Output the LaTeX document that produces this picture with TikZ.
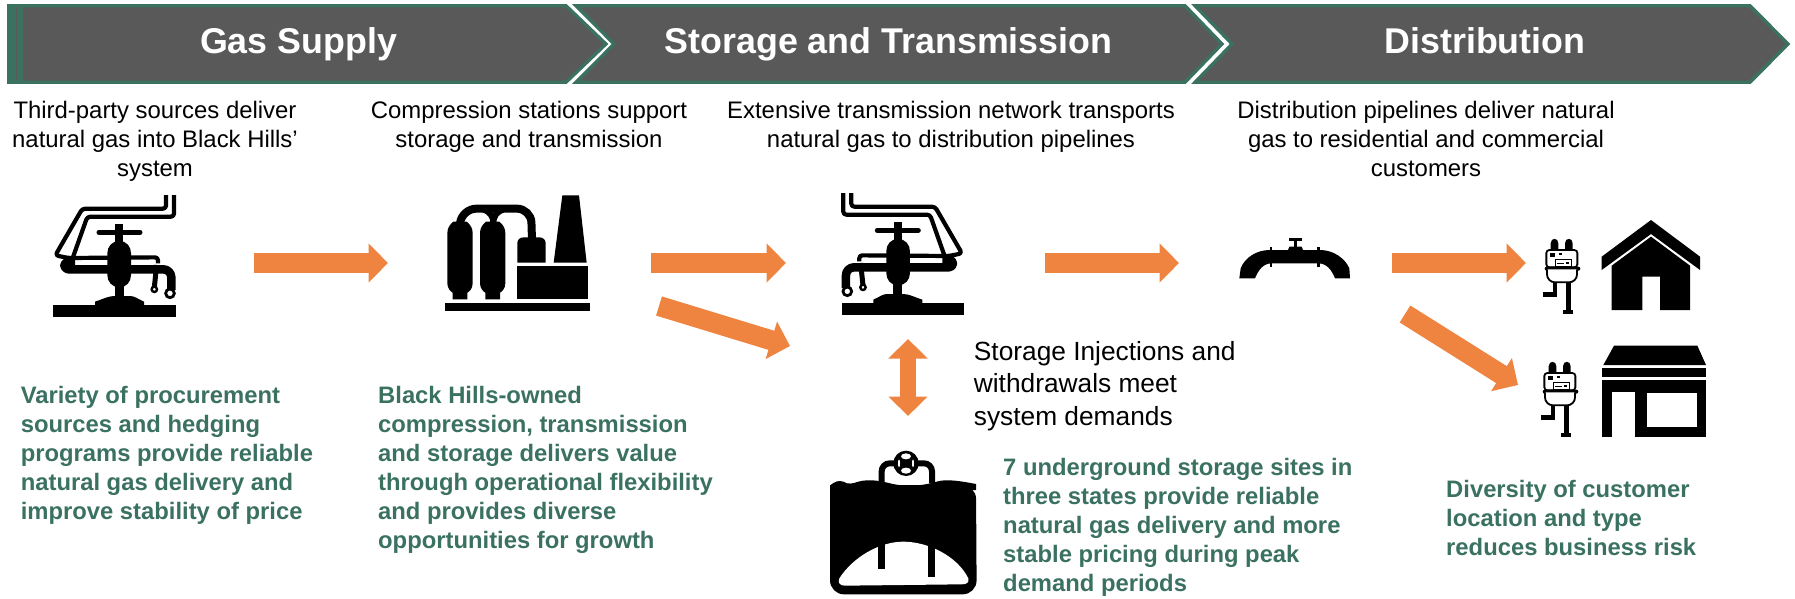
\documentclass[tikz,border=0pt]{standalone}
\usepackage{fontspec}
\setmainfont{Liberation Sans}
\usetikzlibrary{arrows.meta}
\definecolor{bannergray}{HTML}{595959}
\definecolor{bhgreen}{HTML}{3A7161}
\definecolor{flow}{HTML}{EF8340}
\tikzset{
  banner/.style={fill=bannergray,draw=bhgreen,line width=3.3pt,miter limit=10},
  bannertext/.style={inner sep=0pt,anchor=base,text=white,font=\fontsize{35.8}{40}\selectfont\bfseries},
  topnote/.style={inner sep=0pt,anchor=north,align=center,text=black,font=\fontsize{23.9}{28.8}\selectfont},
  sidenote/.style={inner sep=0pt,anchor=north west,align=left,text=black,font=\fontsize{26.3}{32.2}\selectfont},
  greennote/.style={inner sep=0pt,anchor=north west,align=left,text=bhgreen,font=\fontsize{23.8}{29}\selectfont\bfseries},
  flowarrow/.style={draw=flow,line width=20pt,-{Triangle[length=19.5pt,width=38pt]}},
  flowdouble/.style={draw=flow,line width=16pt,{Triangle[length=19.5pt,width=38pt]}-{Triangle[length=19.5pt,width=38pt]}},
  tube/.style={draw=black,line width=4.2pt,line join=round,line cap=butt,rounded corners=3pt},
}
\newcommand{\valveicon}{%
  \fill (70,375) rectangle (437,410);
  \fill (195,376) -- (195,365) .. controls (225,355) and (235,348) .. (255,348) -- (300,348) .. controls (315,348) and (325,358) .. (342,365) -- (342,376) -- cycle;
  \fill (256,300) rectangle (282,352);
  \fill (256,132) rectangle (280,190);
  \draw[line width=5pt,line cap=round] (207,157) -- (330,157);
  \fill (268,183) .. controls (290,183) and (303,200) .. (303,220) -- (303,285) .. controls (303,305) and (290,322) .. (268,322) .. controls (246,322) and (232,305) .. (232,285) -- (232,220) .. controls (232,200) and (246,183) .. (268,183) -- cycle;
  \draw[tube] (408,45) -- (408,86) -- (157,86) -- (76,226) -- (115,234) -- (384,232) -- (384,250);
  \draw[tube] (432,45) -- (432,110) -- (172,110) -- (126,240);
  \draw[line width=8.5pt,line join=round,rounded corners=4pt] (240,268) -- (103,268) -- (103,245) -- (135,245);
  \draw[line width=8.5pt,line join=round,rounded corners=8pt] (240,268) -- (424,268) -- (424,330);
  \draw[line width=5pt] (380,255) -- (373,322);
  \draw[line width=2.4pt,fill=white] (373,328) circle (8);
  \draw[line width=2.8pt,fill=white] (420,340) circle (13);
}
\newcommand{\compressoricon}{%
  \fill (45,368) rectangle (480,394);
  \foreach \dx in {0,98}{
    \fill[xshift=\dx] (70,125) -- (110,125) .. controls (122,135) and (128,145) .. (128,160) -- (128,310) .. controls (128,325) and (118,335) .. (112,338) -- (112,358) -- (68,358) -- (68,338) .. controls (62,335) and (52,325) .. (52,310) -- (52,160) .. controls (52,145) and (58,135) .. (70,125) -- cycle;
  }
  \draw[line width=8pt,rounded corners=14pt] (90,130) -- (97,86) -- (303,86) -- (306,180);
  \draw[line width=6pt] (190,130) .. controls (190,108) and (180,96) .. (160,88);
  \draw[line width=6pt] (190,130) .. controls (190,108) and (200,96) .. (220,88);
  \fill (262,248) -- (262,190) .. controls (262,178) and (270,172) .. (282,172) -- (328,172) .. controls (340,172) and (347,180) .. (347,190) -- (347,248) -- cycle;
  \fill (262,258) rectangle (475,358);
  \fill (397,46) -- (447,46) -- (470,248) -- (371,248) -- cycle;
}
\newcommand{\pipeicon}{%
  \fill (58,175) -- (62,145) .. controls (75,112) and (110,90) .. (150,90) -- (300,90) .. controls (340,90) and (375,115) .. (388,145) -- (390,175) -- (345,175) .. controls (335,150) and (320,130) .. (295,130) -- (155,130) .. controls (130,130) and (115,150) .. (105,175) -- cycle;
  \fill (149,82) rectangle (156,140);
  \fill (292,82) rectangle (299,140);
  \fill (204,90) -- (208,80) -- (245,80) -- (249,90) -- cycle;
  \fill (221,60) rectangle (232,82);
  \fill (206,55) rectangle (245,62);
}
\newcommand{\metericon}{%
  \fill (152,130) .. controls (152,112) and (175,112) .. (175,130) -- (175,152) -- (152,152) -- cycle;
  \fill (195,130) .. controls (195,112) and (218,112) .. (218,130) -- (218,152) -- (195,152) -- cycle;
  \draw[line width=1.8pt,fill=white,rounded corners=3pt] (139,150) rectangle (232,202);
  \fill (150,160) rectangle (165,172);
  \fill (178,160) rectangle (186,166);
  \draw[line width=.9pt,fill=white] (165,178) rectangle (215,198);
  \fill (172,188) rectangle (192,192);
  \fill (197,186) rectangle (208,192);
  \fill[rounded corners=2pt] (134,200) rectangle (241,212);
  \draw[line width=1.8pt,fill=white,rounded corners=8pt] (141,208) -- (141,247) -- (231,247) -- (231,208);
  \fill (197,249) rectangle (213,335);
  \fill (190,330) rectangle (218,342);
  \fill (160,249) rectangle (172,292);
  \fill (128,276) rectangle (172,292);
}
\newcommand{\houseicon}{%
  \fill (453,60) -- (600,170) -- (600,210) -- (453,102) -- (305,210) -- (305,170) -- cycle;
  \fill (453,110) -- (570,197) -- (570,330) -- (480,330) -- (480,230) -- (427,230) -- (427,330) -- (335,330) -- (335,197) -- cycle;
}
\newcommand{\shopicon}{%
  \fill (342,437) -- (592,437) -- (618,495) -- (310,495) -- cycle;
  \fill (307,503) rectangle (618,532);
  \fill (307,540) rectangle (618,710);
  \fill[white] (335,575) rectangle (405,711);
  \fill[white] (442,578) rectangle (590,682);
}
\newcommand{\storageicon}{%
  \fill[rounded corners=14pt] (60,135) -- (60,463) -- (500,463) -- (498,135) -- (60,135);
  \fill (60,136) .. controls (75,125) and (85,120) .. (100,125) .. controls (115,135) and (130,130) .. (145,125) .. controls (180,115) and (220,125) .. (240,130) .. controls (280,140) and (330,140) .. (380,125) .. controls (410,115) and (460,125) .. (498,132) -- (498,150) -- (60,150) -- cycle;
  \draw[line width=6pt,rounded corners=8pt] (215,130) -- (215,70) -- (366,70) -- (366,130);
  \fill[white] (88,415) .. controls (130,350) and (210,305) .. (280,305) .. controls (350,305) and (440,345) .. (475,415) .. controls (478,428) and (470,433) .. (455,433) -- (105,437) .. controls (90,437) and (82,428) .. (88,415) -- cycle;
  \fill (205,300) rectangle (226,388);
  \fill (353,300) rectangle (374,412);
  \fill (288,70) circle (38);
  \fill[white] (288,49) ellipse (15 and 9);
  \fill[white] (288,92) ellipse (15 and 9);
  \fill[white] (267,70) ellipse (3 and 12);
  \fill[white] (309,70) ellipse (3 and 12);
}
\begin{document}
\begin{tikzpicture}[x=1pt,y=-1pt]
\useasboundingbox (0,0) rectangle (1795,599);
% banners
\draw[banner] (9,5.7) -- (566,5.7) -- (606,44) -- (566,82.3) -- (9,82.3) -- cycle;
\fill[bhgreen] (7.3,4) rectangle (22.7,84);
\fill[bannergray] (15.5,7.5) rectangle (17,80.5);
\draw[banner] (576,5.7) -- (1185,5.7) -- (1222,44) -- (1185,82.3) -- (576,82.3) -- (614,44) -- cycle;
\draw[banner] (1195,5.7) -- (1750,5.7) -- (1788,44) -- (1750,82.3) -- (1195,82.3) -- (1232,44) -- cycle;
\node[bannertext] (t1) at (298.5,54) {Gas Supply};
\node[bannertext] (t2) at (888.5,54) {Storage and Transmission};
\node[bannertext] (t3) at (1485,54) {Distribution};
% top notes
\node[topnote] (n1) at (155,101) {Third-party sources deliver\\natural gas into Black Hills’\\system};
\node[topnote] (n2) at (529,101) {Compression stations support\\storage and transmission};
\node[topnote] (n3) at (951,101) {Extensive transmission network transports\\natural gas to distribution pipelines};
\node[topnote] (n4) at (1426,101) {Distribution pipelines deliver natural\\gas to residential and commercial\\customers};
% icons
\begin{scope}[shift={(30,180)},scale=1/3]\valveicon\end{scope}
\begin{scope}[shift={(987.3,178)},xscale=-1/3,yscale=1/3]\valveicon\end{scope}
\begin{scope}[shift={(430,180)},scale=1/3]\compressoricon\end{scope}
\begin{scope}[shift={(1220,220)},scale=1/3]\pipeicon\end{scope}
\begin{scope}[shift={(1500,200)},scale=1/3]\metericon\houseicon\shopicon\end{scope}
\begin{scope}[shift={(1498,323)},scale=1/3]\metericon\end{scope}
\begin{scope}[shift={(810,440)},scale=1/3]\storageicon\end{scope}
% flow ends
\coordinate (a1s) at (254,263); \coordinate (a1e) at (388,263);
\coordinate (a2s) at (651,263); \coordinate (a2e) at (786,263);
\coordinate (a3s) at (659,306); \coordinate (a3e) at (790,346);
\coordinate (a4s) at (1045,263); \coordinate (a4e) at (1179,263);
\coordinate (a5s) at (1391.5,263); \coordinate (a5e) at (1526,263);
\coordinate (a6s) at (1405,314); \coordinate (a6e) at (1518,385);
\coordinate (a7s) at (908,339); \coordinate (a7e) at (908,416);
\draw[flowarrow] (a1s) -- (a1e);
\draw[flowarrow] (a2s) -- (a2e);
\draw[flowarrow] (a3s) -- (a3e);
\draw[flowarrow] (a4s) -- (a4e);
\draw[flowarrow] (a5s) -- (a5e);
\draw[flowarrow] (a6s) -- (a6e);
\draw[flowdouble] (a7s) -- (a7e);
% side and green notes
\node[sidenote] (s1) at (973.7,341.5) {Storage Injections and\\withdrawals meet\\system demands};
\node[greennote] (g1) at (20.6,386) {Variety of procurement\\sources and hedging\\programs provide reliable\\natural gas delivery and\\improve stability of price};
\node[greennote] (g2) at (378,386) {Black Hills-owned\\compression, transmission\\and storage delivers value\\through operational flexibility\\and provides diverse\\opportunities for growth};
\node[greennote] (g3) at (1003,458) {7 underground storage sites in\\three states provide reliable\\natural gas delivery and more\\stable pricing during peak\\demand periods};
\node[greennote] (g4) at (1446,480) {Diversity of customer\\location and type\\reduces business risk};
\end{tikzpicture}
\end{document}
